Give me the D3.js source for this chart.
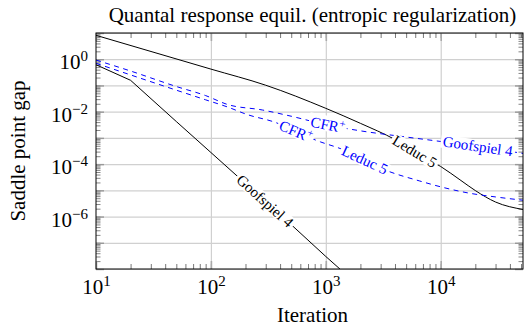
<!DOCTYPE html>
<html>
<head>
<meta charset="utf-8">
<script src="https://cdn.jsdelivr.net/npm/d3@7"></script>
<style>
  body { margin: 0; background: #fff; }
  svg { display: block; font-family: "Liberation Serif", "Times New Roman", serif; }
</style>
</head>
<body>
<div id="chart"></div>
<script>
(function () {
"use strict";

// values (iteration, saddle point gap)
var iterLeduc = [10, 100, 300, 1000, 2000, 4000, 7000, 10000, 15000, 20000, 30000, 52000],
    gapLeduc = [8.16, 0.42, 0.102, 0.0134, 0.00359, 8.65e-4, 1.93e-4, 8.1e-5, 2.37e-5, 9.8e-6, 3.58e-6, 1.86e-6];

var iterGoof = [10, 20, 50, 100, 200, 500, 1000, 1500],
    gapGoof = [0.617, 0.157, 4.2e-3, 2.77e-4, 1.82e-5, 4.9e-7, 3.0e-8, 6.2e-9];

var iterCfrGoof = [10, 20, 50, 90, 140, 280, 500, 1000, 2000, 5000, 10000, 20000, 52000],
    gapCfrGoof = [0.93, 0.355, 0.091, 0.041, 0.0187, 0.0116, 6.7e-3, 3.2e-3, 1.86e-3, 1.08e-3, 7.3e-4, 4.9e-4, 2.55e-4];

var iterCfrLeduc = [10, 20, 50, 90, 140, 210, 340, 900, 1300, 3600, 6500, 10000, 18000, 30000, 52000],
    gapCfrLeduc = [0.70, 0.252, 0.066, 0.0283, 0.0150, 7.6e-3, 4.3e-3, 7.0e-4, 4.1e-4, 5.1e-5, 2.3e-5, 1.36e-5, 7.7e-6, 5.6e-6, 4.2e-6];

var xTicks = [10, 100, 1000, 10000],
    yTicks = [1, 1e-2, 1e-4, 1e-6];

var title = "Quantal response equil. (entropic regularization)",
    xTitle = "Iteration",
    yTitle = "Saddle point gap";

var width = 530,
    height = 329,
    left = 96,
    right = 523,
    top = 33,
    bottom = 269;

var blue = "#0000ff",
    gridColor = "#d0d0d0";

var x = d3.scaleLog().domain([10, 52000]).range([left, right]);
var y = d3.scaleLog().domain([1e-8, 10]).range([bottom, top]);

var svg = d3.select("#chart").append("svg")
    .attr("width", width)
    .attr("height", height);

svg.append("defs").append("clipPath")
    .attr("id", "plotArea")
  .append("rect")
    .attr("x", left)
    .attr("y", top)
    .attr("width", right - left)
    .attr("height", bottom - top);

var decades = y.ticks().filter(function (d) { return Math.abs(Math.log10(d) - Math.round(Math.log10(d))) < 1e-9; });

//grid lines
var gridX = svg.append("g")
    .attr("transform", "translate(0," + bottom + ")")
    .call(d3.axisBottom(x).tickValues(xTicks.slice(1)).tickSize(-(bottom - top)).tickFormat(""));
var gridY = svg.append("g")
    .attr("transform", "translate(" + left + ",0)")
    .call(d3.axisLeft(y).tickValues(decades).tickSize(-(right - left)).tickFormat(""));
[gridX, gridY].forEach(function (g) {
    g.select(".domain").remove();
    g.selectAll(".tick line").attr("stroke", gridColor).attr("stroke-width", 1.2);
});

//tick marks, all pointing into the plot
function tickMarks(axis, pos, values, size, color, w) {
    var g = svg.append("g")
        .attr("transform", pos)
        .call(axis.tickValues(values).tickSize(-size).tickFormat(""));
    g.select(".domain").remove();
    g.selectAll(".tick line").attr("stroke", color).attr("stroke-width", w);
}
var minorX = x.ticks(), minorY = y.ticks();
tickMarks(d3.axisBottom(x), "translate(0," + bottom + ")", minorX, 5, "#555", 0.8);
tickMarks(d3.axisTop(x), "translate(0," + top + ")", minorX, 5, "#555", 0.8);
tickMarks(d3.axisLeft(y), "translate(" + left + ",0)", minorY, 4.5, "#666", 0.8);
tickMarks(d3.axisRight(y), "translate(" + right + ",0)", minorY, 4.5, "#666", 0.8);
tickMarks(d3.axisBottom(x), "translate(0," + bottom + ")", xTicks, 8, "#aaa", 1.6);
tickMarks(d3.axisTop(x), "translate(0," + top + ")", xTicks, 8, "#aaa", 1.6);
tickMarks(d3.axisLeft(y), "translate(" + left + ",0)", decades, 8, "#999", 1.4);
tickMarks(d3.axisRight(y), "translate(" + right + ",0)", decades, 8, "#999", 1.4);

//tick labels as 10^n
function powerLabel(d) {
    var t = d3.select(this);
    var e = Math.round(Math.log10(d));
    t.text("10");
    t.append("tspan")
        .attr("dy", -8)
        .style("font-size", "15px")
        .text(String(e).replace("-", "\u2212"));
}

var xLabels = svg.append("g")
    .attr("transform", "translate(0," + bottom + ")")
    .call(d3.axisBottom(x).tickValues(xTicks).tickSize(0).tickFormat(""));
xLabels.select(".domain").remove();
xLabels.attr("font-family", null).attr("font-size", null);
xLabels.selectAll(".tick text")
    .attr("y", 25)
    .attr("dy", null)
    .attr("fill", "#000")
    .style("font-size", "21px")
    .each(powerLabel);

var yLabels = svg.append("g")
    .attr("transform", "translate(" + left + ",0)")
    .call(d3.axisLeft(y).tickValues(yTicks).tickSize(0).tickFormat(""));
yLabels.select(".domain").remove();
yLabels.attr("font-family", null).attr("font-size", null);
yLabels.selectAll(".tick text")
    .attr("x", -8)
    .attr("y", 9.5)
    .attr("dy", null)
    .attr("fill", "#000")
    .style("font-size", "21px")
    .each(powerLabel);

//curves
var plot = svg.append("g").attr("clip-path", "url(#plotArea)");

function drawSeries(iters, gaps, color, dashed, curve) {
    var pts = iters.map(function (d, i) { return [d, gaps[i]]; });
    var line = d3.line()
        .x(function (d) { return x(d[0]); })
        .y(function (d) { return y(d[1]); })
        .curve(curve);
    plot.append("path")
        .datum(pts)
        .attr("fill", "none")
        .attr("stroke", color)
        .attr("stroke-width", 1)
        .attr("stroke-dasharray", dashed ? "5,4.5" : null)
        .attr("d", line);
}

drawSeries(iterLeduc, gapLeduc, "#000", false, d3.curveMonotoneX);
drawSeries(iterGoof, gapGoof, "#000", false, d3.curveLinear);
drawSeries(iterCfrGoof, gapCfrGoof, blue, true, d3.curveMonotoneX);
drawSeries(iterCfrLeduc, gapCfrLeduc, blue, true, d3.curveMonotoneX);

//labels sitting on the curves
function gapAt(iters, gaps, v) {
    var lv = Math.log10(v);
    for (var i = 1; i < iters.length; i++) {
        var a = Math.log10(iters[i - 1]), b = Math.log10(iters[i]);
        if (lv <= b) {
            var t = (lv - a) / (b - a);
            return Math.pow(10, Math.log10(gaps[i - 1]) + t * (Math.log10(gaps[i]) - Math.log10(gaps[i - 1])));
        }
    }
    return gaps[gaps.length - 1];
}

function curveLabel(iters, gaps, at, color, name, sup) {
    var px = x(at), py = y(gapAt(iters, gaps, at));
    var x0 = x(at / 1.3), y0 = y(gapAt(iters, gaps, at / 1.3)),
        x1 = x(at * 1.3), y1 = y(gapAt(iters, gaps, at * 1.3));
    var angle = Math.atan2(y1 - y0, x1 - x0) * 180 / Math.PI;
    var g = svg.append("g")
        .attr("transform", "translate(" + px + "," + py + ") rotate(" + angle + ")");
    var box = g.append("rect").attr("fill", "#fff");
    var t = g.append("text")
        .attr("text-anchor", "middle")
        .attr("y", 5)
        .attr("fill", color)
        .style("font-size", "15px")
        .text(name);
    if (sup) {
        t.append("tspan").attr("dy", -5.5).style("font-size", "11px").text(sup);
    }
    var bb = t.node().getBBox();
    box.attr("x", bb.x - 2)
        .attr("y", bb.y + 1.5)
        .attr("width", bb.width + 4)
        .attr("height", bb.height - 3);
}

curveLabel(iterLeduc, gapLeduc, 5940, "#000", "Leduc 5");
curveLabel(iterGoof, gapGoof, 295, "#000", "Goofspiel 4");
curveLabel(iterCfrGoof, gapCfrGoof, 1040, blue, "CFR", "+");
curveLabel(iterCfrGoof, gapCfrGoof, 21000, blue, "Goofspiel 4");
curveLabel(iterCfrLeduc, gapCfrLeduc, 548, blue, "CFR", "+");
curveLabel(iterCfrLeduc, gapCfrLeduc, 2180, blue, "Leduc 5");

//frame
svg.append("rect")
    .attr("x", left)
    .attr("y", top)
    .attr("width", right - left)
    .attr("height", bottom - top)
    .attr("fill", "none")
    .attr("stroke", "#000")
    .attr("stroke-width", 1);

//titles
svg.append("text")
    .attr("x", (left + right) / 2 + 3)
    .attr("y", 21.5)
    .attr("text-anchor", "middle")
    .style("font-size", "21px")
    .text(title);

svg.append("text")
    .attr("x", (left + right) / 2 + 3)
    .attr("y", 321.5)
    .attr("text-anchor", "middle")
    .style("font-size", "21px")
    .text(xTitle);

svg.append("text")
    .attr("transform", "translate(25," + (top + bottom) / 2 + ") rotate(-90)")
    .attr("text-anchor", "middle")
    .style("font-size", "21px")
    .text(yTitle);

})();
</script>
</body>
</html>
